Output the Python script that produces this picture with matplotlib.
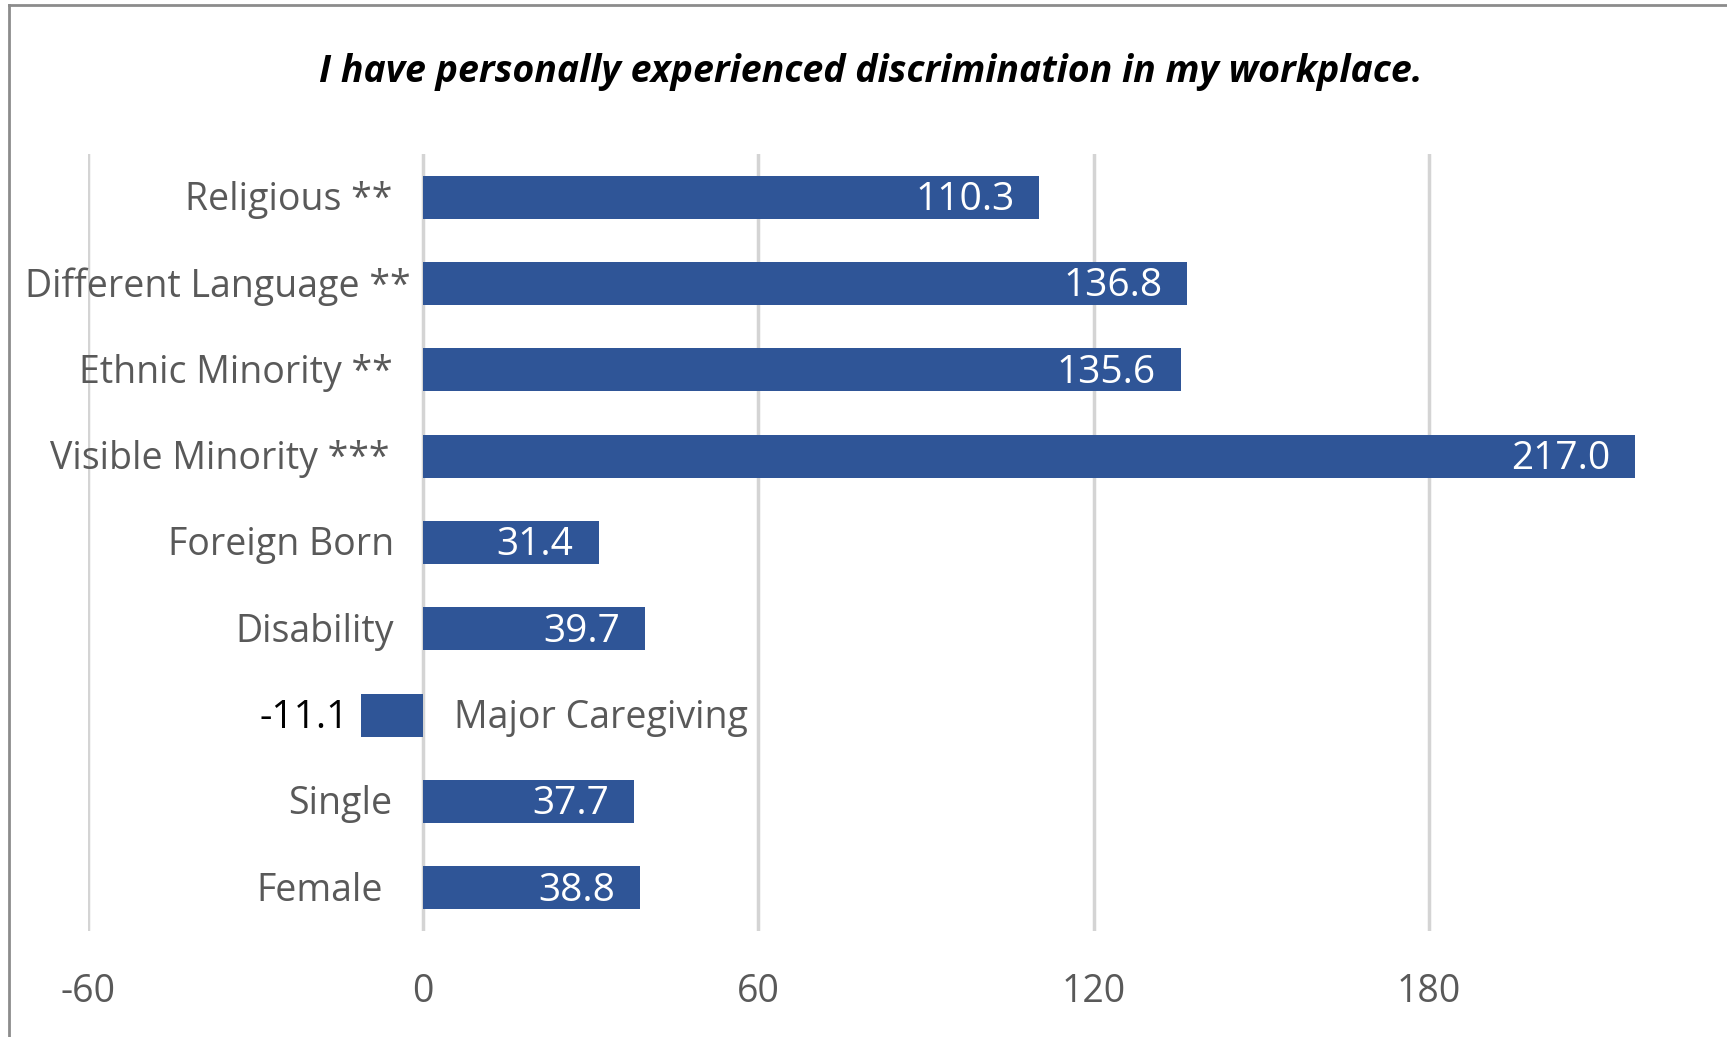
import matplotlib
matplotlib.use("Agg")
import matplotlib.pyplot as plt
from matplotlib.lines import Line2D

# data
categories = ['Religious **', 'Different Language **', 'Ethnic Minority **',
              'Visible Minority ***', 'Foreign Born', 'Disability',
              'Major Caregiving', 'Single', 'Female']
values = [110.3, 136.8, 135.6, 217.0, 31.4, 39.7, -11.1, 37.7, 38.8]
xticks = [-60, 0, 60, 120, 180]
title = 'I have personally experienced discrimination in my workplace.'

# small horizontal nudges (points) for category labels, as placed in the original
label_nudge = [-1, 12, -1, -3, 0, 0, 0, -1, -8]

bar_color = '#2F5597'
label_gray = '#595959'
plt.rcParams['font.family'] = ['Open Sans', 'DejaVu Sans']

fig = plt.figure(figsize=(17.27, 10.37), dpi=100)
ax = fig.add_axes([88 / 1727, 106 / 1037, 1639 / 1727, 777 / 1037])

ypos = list(range(len(categories)))
ax.barh(ypos, values, height=0.5, color=bar_color, zorder=3)

ax.set_xlim(-60, 233.4)
ax.set_ylim(len(categories) - 0.5, -0.5)
ax.set_xticks(xticks)
ax.set_xticklabels([str(t) for t in xticks])
ax.set_yticks([])
ax.tick_params(axis='x', length=0, pad=30, labelsize=27, labelcolor=label_gray)
ax.grid(axis='x', color='#D4D4D4', linewidth=2.5, zorder=0)
for s in ax.spines.values():
    s.set_visible(False)

fs = 27
fs_val = 28
for y, cat, v, dx in zip(ypos, categories, values, label_nudge):
    if v >= 0:
        ax.annotate(cat, (0, y), xytext=(-21 + dx, -2), textcoords='offset points',
                    ha='right', va='center', fontsize=fs, color=label_gray)
        ax.annotate(f'{v:.1f}', (v, y), xytext=(-18, -2), textcoords='offset points',
                    ha='right', va='center', fontsize=fs_val, color='white', zorder=4)
    else:
        ax.annotate(cat, (0, y), xytext=(22, -2), textcoords='offset points',
                    ha='left', va='center', fontsize=fs, color=label_gray)
        ax.annotate(f'{v:.1f}', (v, y), xytext=(-9, -2), textcoords='offset points',
                    ha='right', va='center', fontsize=fs_val, color='black')

fig.text(0.504, 1 - 72 / 1037, title, ha='center', va='center',
         fontsize=27, fontweight='bold', fontstyle='italic', color='black')

# chart frame (only left and top edges visible in the crop)
fig.add_artist(Line2D([9 / 1727, 9 / 1727], [0, 1 - 5 / 1037],
                      transform=fig.transFigure, color='#8C8C8C', linewidth=2))
fig.add_artist(Line2D([9 / 1727, 1], [1 - 5 / 1037, 1 - 5 / 1037],
                      transform=fig.transFigure, color='#8C8C8C', linewidth=2))

fig.savefig('out.png', dpi=100)
